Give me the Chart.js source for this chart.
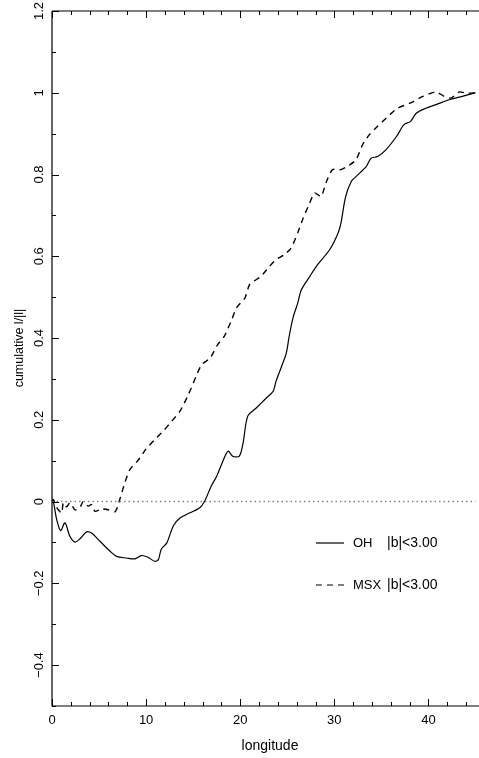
<!DOCTYPE html>
<html>
<head>
<meta charset="utf-8">
<script src="https://cdn.jsdelivr.net/npm/chart.js@4.4.1/dist/chart.umd.min.js"></script>
<style>
  html, body { margin: 0; padding: 0; background: #fff; }
  #wrap { width: 479px; height: 758px; }
</style>
</head>
<body>
<div id="wrap"><canvas id="cum"></canvas></div>
<script>
// ---------- data ----------
const ohLon = [0, 0.14, 0.5, 0.92, 1.38, 1.9, 2.44, 2.97, 3.67, 4.2,
  5.09, 6.15, 6.86, 7.92, 8.8, 9.5, 10.2, 10.9, 11.3, 11.6,
  12.2, 12.9, 13.6, 14.6, 15.7, 16.2, 16.9, 17.5, 18.0, 18.7,
  19.2, 19.9, 20.3, 20.8, 21.7, 22.8, 23.5, 23.8, 24.4, 24.9,
  25.2, 25.6, 26.1, 26.5, 27.4, 28.2, 29.5, 30.4, 30.7, 31.2,
  31.8, 32.3, 33.4, 33.9, 34.6, 35.5, 36.6, 37.4, 38.1, 38.7,
  39.7, 40.8, 42.2, 43.6, 45.0];
const ohCum = [0, 0, -0.044, -0.071, -0.052, -0.085, -0.099, -0.091, -0.074, -0.077,
  -0.097, -0.121, -0.134, -0.138, -0.140, -0.132, -0.136, -0.146, -0.142, -0.117,
  -0.101, -0.059, -0.040, -0.028, -0.015, 0.0, 0.037, 0.062, 0.090, 0.123,
  0.111, 0.111, 0.143, 0.209, 0.229, 0.254, 0.270, 0.294, 0.331, 0.364,
  0.404, 0.449, 0.485, 0.518, 0.551, 0.579, 0.616, 0.657, 0.681, 0.746,
  0.783, 0.795, 0.820, 0.840, 0.844, 0.861, 0.893, 0.922, 0.930, 0.950,
  0.962, 0.971, 0.983, 0.991, 1.0];

const msxLon = [0, 0.14, 0.4, 0.67, 1.03, 1.2, 1.56, 1.9, 2.44, 2.97,
  3.3, 3.85, 4.2, 4.56, 5.27, 5.97, 6.68, 6.93, 7.2, 7.74,
  8.27, 9.15, 10.0, 10.9, 11.8, 12.7, 13.6, 14.5, 15.3, 15.9,
  16.8, 17.6, 18.3, 19.1, 19.6, 20.5, 21.0, 22.2, 23.1, 23.8,
  24.7, 25.4, 26.1, 26.7, 27.3, 27.9, 28.6, 29.1, 29.8, 30.7,
  31.4, 32.3, 33.0, 33.7, 34.6, 35.7, 36.7, 38.1, 39.4, 40.8,
  41.7, 42.4, 43.3, 44.0, 45.0];
const msxCum = [0, 0.005, -0.010, -0.020, -0.028, -0.003, -0.013, -0.003, -0.020, -0.015,
  0.0, -0.011, -0.007, -0.024, -0.018, -0.020, -0.025, -0.015, 0.005, 0.046,
  0.078, 0.101, 0.129, 0.151, 0.172, 0.196, 0.221, 0.262, 0.306, 0.335,
  0.351, 0.384, 0.404, 0.445, 0.474, 0.498, 0.531, 0.551, 0.575, 0.592,
  0.604, 0.620, 0.657, 0.694, 0.726, 0.755, 0.746, 0.779, 0.812, 0.812,
  0.820, 0.836, 0.873, 0.897, 0.918, 0.942, 0.962, 0.975, 0.991, 1.002,
  0.991, 0.987, 1.002, 0.999, 1.0];

const zeroLon = [0, 45];
const zeroCum = [0, 0];

const xTickLabels = [0, 10, 20, 30, 40];
const yTickLabels = [-0.4, -0.2, 0, 0.2, 0.4, 0.6, 0.8, 1, 1.2];

const seriesNames = ['OH', 'MSX'];
const seriesCut = '|b|<3.00';

// ---------- helpers ----------
const pairs = (xs, ys) => xs.map((x, i) => ({ x: x, y: ys[i] }));
const fmt = v => (v < 0 ? '\u2212' + String(-v) : String(v));
const FONT = '"Liberation Sans", Arial, sans-serif';

// inside ticks, top axis, axis titles, legend
const framePlugin = {
  id: 'frame',
  afterDatasetsDraw(chart) {
    const { ctx, chartArea: a, scales: { x, y } } = chart;
    ctx.save();
    ctx.strokeStyle = '#000';
    ctx.lineWidth = 1.2;
    ctx.beginPath();
    ctx.moveTo(a.left, a.top); ctx.lineTo(a.right, a.top);
    ctx.moveTo(a.left, a.top); ctx.lineTo(a.left, a.bottom);
    ctx.moveTo(a.left, a.bottom); ctx.lineTo(a.right, a.bottom);
    ctx.stroke();

    ctx.lineWidth = 1;
    ctx.beginPath();
    // x ticks every 2, long at multiples of 10
    for (let v = 0; v <= x.max; v += 2) {
      const px = Math.round(x.getPixelForValue(v)) + 0.5;
      const len = v % 10 === 0 ? 7 : 4;
      ctx.moveTo(px, a.bottom); ctx.lineTo(px, a.bottom - len);
      ctx.moveTo(px, a.top); ctx.lineTo(px, a.top + len);
    }
    // y ticks every 0.1, long every 0.2
    for (let i = -5; i <= 12; i++) {
      const py = Math.round(y.getPixelForValue(i / 10)) + 0.5;
      const len = i % 2 === 0 ? 7 : 4;
      ctx.moveTo(a.left, py); ctx.lineTo(a.left + len, py);
    }
    ctx.stroke();

    // axis titles
    ctx.fillStyle = '#000';
    ctx.textAlign = 'center';
    ctx.textBaseline = 'middle';
    ctx.font = '14px ' + FONT;
    ctx.fillText('longitude', 270, 746);
    ctx.save();
    ctx.font = '12.5px ' + FONT;
    ctx.translate(20, 348);
    ctx.rotate(-Math.PI / 2);
    ctx.fillText('cumulative l/|l|', 0, 0);
    ctx.restore();

    // legend
    ctx.textAlign = 'left';
    const rows = [543, 585];
    rows.forEach((ry, i) => {
      ctx.beginPath();
      ctx.lineWidth = 1.2;
      ctx.setLineDash(i === 0 ? [] : [6, 5]);
      ctx.moveTo(316, ry); ctx.lineTo(344, ry);
      ctx.stroke();
      ctx.setLineDash([]);
      ctx.font = '13px ' + FONT;
      ctx.fillText(seriesNames[i], 353, ry);
      ctx.font = '14px ' + FONT;
      ctx.fillText(seriesCut, 387, ry);
    });
    ctx.restore();
  }
};

new Chart(document.getElementById('cum'), {
  type: 'line',
  data: {
    datasets: [
      {
        label: 'zero',
        data: pairs(zeroLon, zeroCum),
        borderColor: '#808080',
        borderWidth: 1.5,
        borderDash: [1.5, 3],
        pointRadius: 0
      },
      {
        label: seriesNames[0],
        data: pairs(ohLon, ohCum),
        borderColor: '#000',
        borderWidth: 1.2,
        pointRadius: 0,
        tension: 0.3
      },
      {
        label: seriesNames[1],
        data: pairs(msxLon, msxCum),
        borderColor: '#000',
        borderWidth: 1.4,
        borderDash: [6, 5],
        pointRadius: 0,
        tension: 0.2
      }
    ]
  },
  options: {
    responsive: true,
    maintainAspectRatio: false,
    animation: false,
    layout: { padding: { top: 11, right: 0, left: 0, bottom: 0 } },
    plugins: { legend: { display: false }, tooltip: { enabled: false } },
    scales: {
      x: {
        type: 'linear',
        min: 0,
        max: 45.37,
        grid: { display: false, drawTicks: false },
        border: { display: false },
        afterFit: s => { s.height = 52; },
        afterBuildTicks: s => { s.ticks = xTickLabels.map(v => ({ value: v })); },
        ticks: {
          padding: 7,
          color: '#000',
          font: { family: FONT, size: 13 },
          maxRotation: 0,
          callback: v => fmt(v)
        }
      },
      y: {
        type: 'linear',
        min: -0.5,
        max: 1.2,
        grid: { display: false, drawTicks: false },
        border: { display: false },
        afterFit: s => { s.width = 52; },
        afterBuildTicks: s => { s.ticks = yTickLabels.map(v => ({ value: v })); },
        ticks: {
          padding: 0,
          color: '#000',
          minRotation: 90,
          maxRotation: 90,
          crossAlign: 'center',
          font: { family: FONT, size: 13 },
          callback: v => fmt(Math.round(v * 10) / 10)
        }
      }
    }
  },
  plugins: [framePlugin]
});
</script>
</body>
</html>
